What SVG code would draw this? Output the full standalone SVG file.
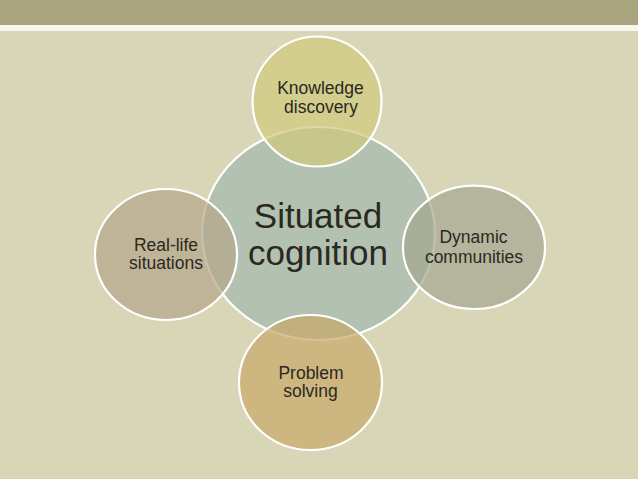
<svg xmlns="http://www.w3.org/2000/svg" width="638" height="479" viewBox="0 0 638 479">
<style>
.bg{fill:#d9d6b8}
.band{fill:#a8a47d}
.rule{fill:#f7f6ee}
.node{stroke:#ffffff;stroke-width:2.2}
.sat{fill-opacity:0.7}
.lbl{font-family:"Liberation Sans",Arial,sans-serif;fill:#2a291f;text-anchor:middle}
.small{font-size:17.5px}
.big{font-size:35px}
</style>
<rect class="bg" x="0" y="0" width="638" height="479"/>
<rect class="band" x="0" y="0" width="638" height="25"/>
<rect class="rule" x="0" y="25" width="638" height="6"/>
<g id="connectors"/>
<g id="node-center">
<ellipse class="node" cx="318.5" cy="233.5" rx="116.5" ry="106.5" fill="#b3c1b0"/>
<text class="lbl big" x="318" y="228.3">Situated</text>
<text class="lbl big" x="318" y="265">cognition</text>
</g>
<g id="node-knowledge">
<ellipse class="node sat" cx="317" cy="101.5" rx="64.5" ry="65" fill="#d0c97c"/>
<text class="lbl small" x="320.5" y="94.3">Knowledge</text>
<text class="lbl small" x="321" y="113.3">discovery</text>
</g>
<g id="node-reallife">
<ellipse class="node sat" cx="166" cy="254.5" rx="71" ry="65.5" fill="#b3a589"/>
<text class="lbl small" x="166" y="250.7">Real-life</text>
<text class="lbl small" x="166" y="269.3">situations</text>
</g>
<g id="node-dynamic">
<ellipse class="node sat" cx="474" cy="247.3" rx="71" ry="61.7" fill="#a4a690"/>
<text class="lbl small" x="473.5" y="243.3">Dynamic</text>
<text class="lbl small" x="474" y="262.7">communities</text>
</g>
<g id="node-problem">
<ellipse class="node sat" cx="310.5" cy="382.5" rx="71.5" ry="67.5" fill="#c7a868"/>
<text class="lbl small" x="311" y="379">Problem</text>
<text class="lbl small" x="310.5" y="397.3">solving</text>
</g>
</svg>
